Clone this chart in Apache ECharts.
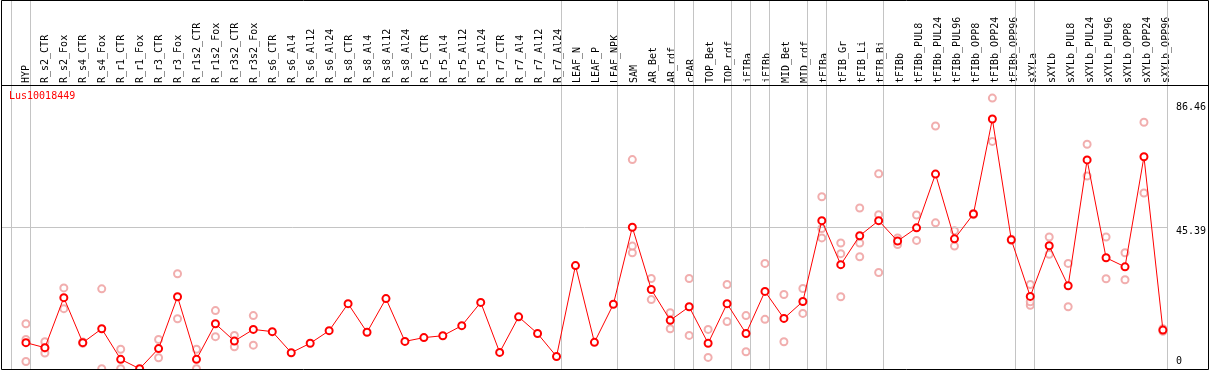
<!DOCTYPE html>
<html><head><meta charset="utf-8">
<script src="https://cdn.jsdelivr.net/npm/echarts@6/dist/echarts.min.js"></script>
<style>html,body{margin:0;padding:0;background:#fff}#c{width:1209px;height:370px}</style>
</head><body><div id="c"></div>
<script>
const title = 'Lus10018449';
const categories = ['HYP','R_s2_CTR','R_s2_Fox','R_s4_CTR','R_s4_Fox','R_r1_CTR','R_r1_Fox','R_r3_CTR','R_r3_Fox','R_r1s2_CTR','R_r1s2_Fox','R_r3s2_CTR','R_r3s2_Fox','R_s6_CTR','R_s6_Al4','R_s6_Al12','R_s6_Al24','R_s8_CTR','R_s8_Al4','R_s8_Al12','R_s8_Al24','R_r5_CTR','R_r5_Al4','R_r5_Al12','R_r5_Al24','R_r7_CTR','R_r7_Al4','R_r7_Al12','R_r7_Al24','LEAF_N','LEAF_P','LEAF_NPK','SAM','AR_Bet','AR_rdf','cPAR','TOP_Bet','TOP_rdf','iFIBa','iFIBb','MID_Bet','MID_rdf','tFIBa','tFIB_Gr','tFIB_Li','tFIB_Bi','tFIBb','tFIBb_PUL8','tFIBb_PUL24','tFIBb_PUL96','tFIBb_OPP8','tFIBb_OPP24','tFIBb_OPP96','sXYLa','sXYLb','sXYLb_PUL8','sXYLb_PUL24','sXYLb_PUL96','sXYLb_OPP8','sXYLb_OPP24','sXYLb_OPP96'];
const meanValues = [8.7,7.1,23.0,8.7,13.1,3.4,0.4,6.8,23.3,3.4,14.7,9.2,12.9,
  12.2,5.5,8.5,12.5,21.1,12.0,22.7,9.1,10.3,10.9,14.1,21.5,5.6,16.9,11.6,4.3,33.2,8.8,20.9,
  45.4,25.6,15.8,20.1,8.5,21.1,11.6,25.0,16.4,21.8,
  47.5,33.5,42.7,47.5,41.0,
  45.2,62.3,41.7,49.6,79.8,41.4,
  23.4,39.5,
  26.8,66.8,35.7,32.8,67.8,12.7];
const rep1 = [14.7,9.0,26.1,8.9,25.8,6.6,null,9.7,30.6,6.6,18.9,11.0,17.3,
  null,null,null,null,null,null,null,null,null,null,null,null,null,null,null,null,null,null,null,
  66.9,29.1,18.2,29.1,12.9,27.2,17.3,33.9,24.0,25.9,
  55.1,40.4,51.5,62.4,42.0,
  49.3,77.6,44.3,49.8,86.46,41.6,
  27.2,42.3,
  33.9,71.8,42.3,37.3,78.8,13.1];
const rep2 = [2.7,5.4,19.5,8.5,0.4,0.4,null,3.9,16.3,0.4,10.6,7.4,7.9,
  null,null,null,null,null,null,null,null,null,null,null,null,null,null,null,null,null,null,null,
  37.3,22.4,13.1,11.0,4.0,15.4,5.8,16.1,9.0,18.0,
  42.0,23.3,36.0,31.0,39.9,
  41.2,46.8,39.4,49.4,72.7,41.2,
  20.6,36.8,
  20.1,61.7,29.0,28.7,56.3,12.3];
const rep3 = [9.7,7.0,null,null,null,null,null,null,null,null,null,null,null,
  null,null,null,null,null,null,null,null,null,null,null,null,null,null,null,null,null,null,null,
  39.4,null,null,null,null,null,null,null,null,null,
  45.0,37.0,40.4,49.4,null,
  null,null,null,null,null,null,
  21.7,null,
  null,null,null,null,null,null];
const groupEnds = [-1,0,28,31,34,35,37,38,39,41,42,45,52,53,60];
const yTicks = [0,45.39,86.46];
const yTickLabels = ['0','45.39','86.46'];

const FONT = 'DejaVu Sans Mono';
const xMin = -25/19, xMax = 60 + 5/19;
const pts = arr => arr.map((v,i) => v == null ? null : [i, v]).filter(Boolean);
const repStyle = {type:'scatter', xAxisIndex:0, yAxisIndex:0, symbol:'emptyCircle', symbolSize:7,
  itemStyle:{color:'#ee9a9a', borderColor:'#ee9a9a', borderWidth:1.1}, z:2, silent:true};

const chart = echarts.init(document.getElementById('c'), null, {renderer:'canvas'});
chart.setOption({
  animation:false,
  title:{text:title, left:9, top:91, padding:0, textStyle:{fontFamily:FONT, fontSize:10, fontWeight:'normal', color:'#ff0000'}},
  grid:[
    {left:1, right:38, top:0, height:370.7},
    {left:1, right:38, top:0, height:85}
  ],
  xAxis:[
    {type:'value', gridIndex:0, min:xMin, max:xMax, show:false},
    {type:'value', gridIndex:1, min:xMin, max:xMax, position:'bottom',
     axisLine:{show:false}, axisTick:{show:false}, splitLine:{show:false},
     axisLabel:{inside:true, rotate:90, margin:2, fontFamily:FONT, fontSize:10, color:'#000',
       customValues: categories.map((_,i)=>i), formatter: v => categories[Math.round(v)] || ''}}
  ],
  yAxis:[
    {type:'value', gridIndex:0, min:0, max:117.66, position:'right',
     axisLine:{show:false}, axisTick:{show:false}, splitLine:{show:false},
     axisLabel:{margin:8, fontFamily:FONT, fontSize:10, color:'#000', verticalAlign:'middle',
       customValues: yTicks,
       formatter: v => {
         const k = yTicks.indexOf(v);
         const t = yTickLabels[k];
         return k === 0 ? '{lo|' + t + '}' : k === yTicks.length-1 ? '{hi|' + t + '}' : '{mid|' + t + '}';
       },
       rich:{
         lo:{fontFamily:FONT, fontSize:10, color:'#000', padding:[0,0,18,0]},
         mid:{fontFamily:FONT, fontSize:10, color:'#000', padding:[8,0,0,0]},
         hi:{fontFamily:FONT, fontSize:10, color:'#000', padding:[19,0,0,0]}
       }}},
    {type:'value', gridIndex:1, show:false}
  ],
  series:[
    {type:'scatter', xAxisIndex:0, yAxisIndex:0, data:[], z:1, silent:true,
     markLine:{silent:true, symbol:'none', label:{show:false}, animation:false,
       lineStyle:{type:'solid', color:'#c4c4c4', width:1},
       data: groupEnds.map(g => ({xAxis: g + 0.23})).concat([{yAxis: yTicks[1]}])}},
    Object.assign({}, repStyle, {data: pts(rep1)}),
    Object.assign({}, repStyle, {data: pts(rep2)}),
    Object.assign({}, repStyle, {data: pts(rep3)}),
    {type:'line', xAxisIndex:0, yAxisIndex:0, data: pts(meanValues), z:5,
     symbol:'emptyCircle', symbolSize:7, showAllSymbol:true,
     lineStyle:{color:'#ff0000', width:1},
     itemStyle:{color:'#ff0000', borderColor:'#ff0000', borderWidth:1.5}}
  ],
  graphic:[
    {type:'rect', silent:true, z:100, shape:{x:1.5, y:0.5, width:1207, height:369},
     style:{fill:'none', stroke:'#000', lineWidth:1}},
    {type:'line', silent:true, z:100, shape:{x1:1, y1:85.5, x2:1209, y2:85.5},
     style:{stroke:'#000', lineWidth:1}}
  ]
});
</script></body></html>
